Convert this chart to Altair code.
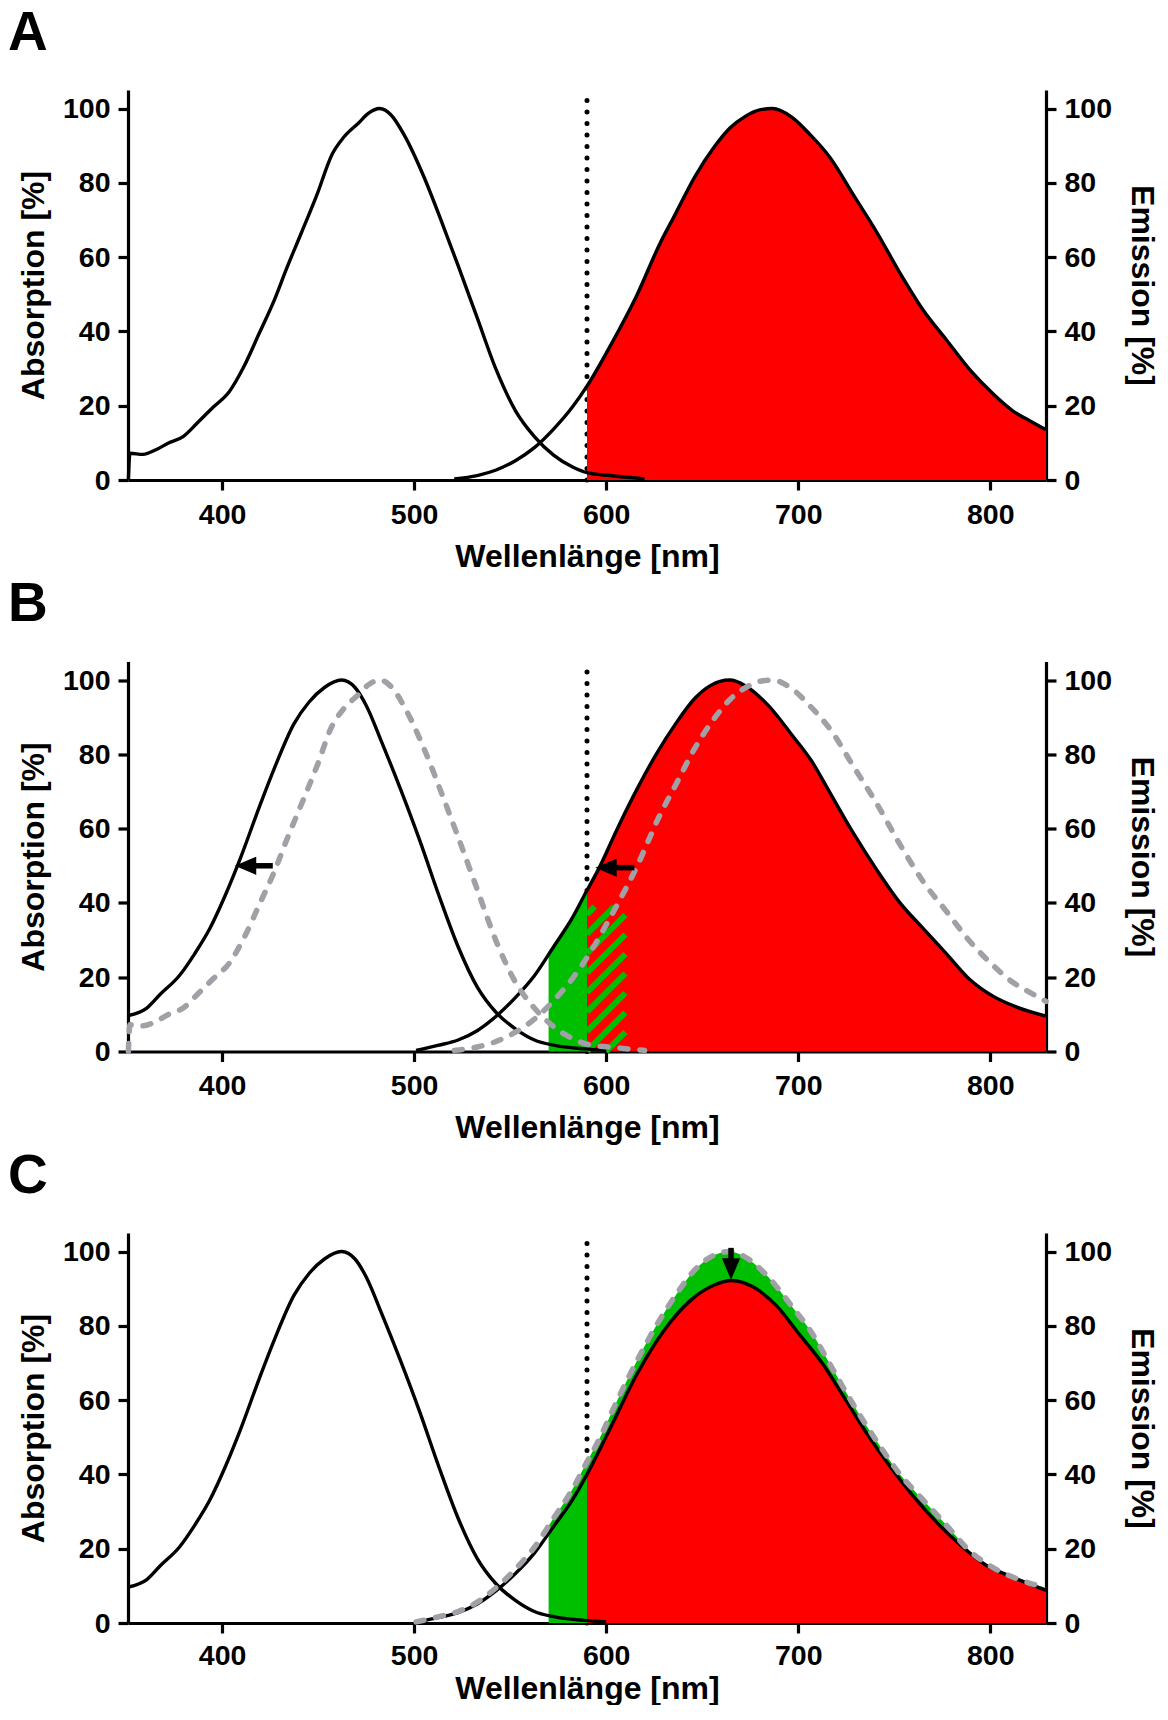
import altair as alt
import pandas as pd
import numpy as np

FONT = "Liberation Sans"
RED = "#FF0000"
GREEN = "#00BE00"
GRAY = "#A0A0A6"

# ---- data ----
# Panel A absorption (also grey dashed reference in panel B)
abs_a_wl = [351.2, 352.0, 358.8, 365.8, 371.8, 379.7, 387.7, 395.6, 403.6, 411.5, 419.5, 427.4,
            433.4, 441.4, 449.3, 457.3, 463.2, 471.2, 476.1, 482.1, 488.1, 495.0, 505.0, 514.9,
            522.9, 532.8, 542.7, 552.7, 562.6, 572.6, 582.5, 590.5, 601.8, 620.0]
abs_a_val = [0.0, 7.2, 6.9, 8.2, 9.9, 11.7, 15.7, 19.7, 23.7, 30.7, 39.7, 48.7,
             56.7, 66.7, 76.7, 87.7, 92.2, 96.2, 98.7, 100.0, 98.2, 92.7, 81.7, 68.7,
             57.7, 43.7, 29.7, 18.7, 11.7, 6.7, 3.5, 1.9, 1.2, 0.3]

# Panel A emission (also grey dashed reference in panel B)
em_a_wl = [520.9, 532.8, 542.7, 552.7, 562.6, 572.6, 582.5, 589.9, 603.8, 615.9, 628.0, 636.1,
           646.2, 656.3, 664.3, 672.4, 680.4, 686.5, 696.6, 706.7, 716.7, 728.8, 740.9, 753.0,
           765.1, 777.2, 789.3, 801.4, 811.5, 819.6, 829.0]
em_a_val = [0.3, 1.2, 2.7, 5.2, 8.7, 13.7, 19.7, 25.2, 37.7, 49.7, 63.7, 71.7,
            81.7, 89.7, 94.7, 97.9, 99.7, 100.0, 97.7, 92.7, 86.7, 76.7, 66.7, 55.7,
            45.7, 37.7, 29.7, 23.2, 18.7, 16.2, 13.5]

# Blue-shifted absorption (panels B and C)
abs_b_wl = [351.2, 360.8, 367.8, 377.7, 385.7, 393.6, 401.6, 409.5, 419.5, 427.4, 437.4, 445.3,
            453.3, 462.2, 469.2, 475.1, 483.1, 493.0, 503.0, 512.9, 522.9, 532.8, 542.7, 552.7,
            562.6, 572.6, 588.5, 600.0]
abs_b_val = [9.7, 11.7, 15.4, 20.4, 26.3, 33.1, 42.0, 52.0, 66.0, 76.5, 88.2, 94.1,
             98.0, 100.0, 98.0, 93.1, 83.3, 70.5, 56.7, 42.0, 28.2, 17.4, 10.5, 6.1,
             3.1, 1.7, 0.7, 0.3]

# Blue-shifted emission (panel B solid, panel C grey dashed)
em_b_wl = [501.0, 512.9, 522.9, 532.8, 542.7, 552.7, 562.6, 572.6, 582.5, 589.6, 595.8, 605.8,
           615.9, 626.0, 636.1, 646.2, 654.2, 664.3, 672.4, 684.5, 696.6, 706.7, 716.7, 728.8,
           740.9, 753.0, 765.1, 777.2, 789.3, 801.4, 813.5, 829.0]
em_b_val = [0.3, 1.7, 3.1, 5.6, 9.5, 14.5, 20.4, 28.2, 36.1, 43.0, 48.9, 60.0,
            70.5, 80.0, 88.2, 95.1, 98.5, 100.0, 98.5, 93.1, 85.3, 78.4, 69.5, 58.7,
            48.9, 40.0, 33.1, 26.3, 19.4, 14.9, 12.0, 9.5]

# Quenched emission (panel C solid)
em_c_wl = [501.0, 512.9, 522.9, 532.8, 542.7, 552.7, 562.6, 572.6, 582.5, 590.0, 601.8, 615.9,
           630.0, 644.2, 656.3, 665.3, 676.4, 688.5, 700.6, 712.7, 724.8, 736.9, 749.0, 761.1,
           773.2, 785.3, 797.4, 809.5, 829.0]
em_c_val = [0.2, 1.5, 2.8, 5.1, 8.7, 13.3, 18.8, 26.0, 33.2, 40.0, 52.1, 66.9,
            78.7, 87.0, 91.0, 92.2, 90.5, 85.5, 77.7, 69.8, 60.0, 50.1, 41.3, 33.4,
            26.5, 20.6, 15.7, 12.8, 8.8]

x_ticks = [400, 500, 600, 700, 800]
y_ticks = [0, 20, 40, 60, 80, 100]
X_DOMAIN = [351, 829]
Y_DOMAIN = [0, 105]
filter_cut = 590      # dotted line / filter edge
green_lo = 570
hatch_hi = 610
hatch_top = 39
arrows_b = [(426.4, 406.6, 50.0), (614.7, 594.3, 49.5)]   # (tail, tip, level)
arrow_c = (665.0, 101.0, 92.4)                            # (wavelength, tail, tip)

W, H = 918, 390
KX = W / (X_DOMAIN[1] - X_DOMAIN[0])
KY = H / (Y_DOMAIN[1] - Y_DOMAIN[0])

yscale = alt.Scale(domain=Y_DOMAIN, nice=False, zero=True)


def make_x(label_pad, title_pad):
    return alt.X("wl:Q", scale=alt.Scale(domain=X_DOMAIN, nice=False, zero=False),
                 axis=alt.Axis(title="Wellenlänge [nm]", values=x_ticks, format="d",
                               labelPadding=label_pad, titlePadding=title_pad))


def df(wl, val):
    return pd.DataFrame({"wl": wl, "val": val})


def seg(wl, val, lo, hi):
    wl = np.asarray(wl, float)
    val = np.asarray(val, float)
    inner = wl[(wl > lo) & (wl < hi)]
    xs = np.concatenate([[lo], inner, [hi]])
    return pd.DataFrame({"wl": xs, "val": np.interp(xs, wl, val)})


def yenc(axis=None):
    return alt.Y("val:Q", scale=yscale, axis=axis)


LEFT_HEAD = "M 0 0 L 2 -0.85 L 2 0.85 Z"
DOWN_HEAD = "M 0 0 L -0.85 -2 L 0.85 -2 Z"


class Panel:
    def __init__(self, label_pad, title_pad):
        self.x = make_x(label_pad, title_pad)

    def area(self, data, color):
        return alt.Chart(data).mark_area(color=color, interpolate="monotone", opacity=1).encode(
            x=self.x, y=yenc())

    def solid(self, data, axis=None):
        return alt.Chart(data).mark_line(color="black", strokeWidth=3.4,
                                         interpolate="monotone").encode(x=self.x, y=yenc(axis))

    def dashed(self, data):
        return alt.Chart(data).mark_line(color=GRAY, strokeWidth=5.5, strokeDash=[8, 12],
                                         strokeCap="round", interpolate="monotone").encode(
            x=self.x, y=yenc())

    def dotted(self):
        d = pd.DataFrame({"wl": [filter_cut], "val": [Y_DOMAIN[0]], "val2": [Y_DOMAIN[1]]})
        return alt.Chart(d).mark_rule(color="black", strokeWidth=5, strokeDash=[0.1, 11.4],
                                      strokeCap="round").encode(x=self.x, y=yenc(), y2="val2:Q")

    def hatch(self):
        w = (hatch_hi - filter_cut) * KX
        h = hatch_top * KY
        rows = []
        step = 19.5
        k = -w
        while k < h:
            u0 = max(0.0, -k)
            u1 = min(w, h - k)
            if u1 > u0:
                rows.append({"wl": filter_cut + u0 / KX, "val": (u0 + k) / KY,
                             "wl2": filter_cut + u1 / KX, "val2": (u1 + k) / KY})
            k += step
        return alt.Chart(pd.DataFrame(rows)).mark_rule(color=GREEN, strokeWidth=6,
                                                       strokeCap="butt").encode(
            x=self.x, x2="wl2:Q", y=yenc(), y2="val2:Q")

    def h_arrow(self, tail, tip, level):
        body = pd.DataFrame({"wl": [tail], "wl2": [tip + 16 / KX], "val": [level]})
        head = pd.DataFrame({"wl": [tip], "val": [level]})
        r = alt.Chart(body).mark_rule(color="black", strokeWidth=5.5).encode(
            x=self.x, x2="wl2:Q", y=yenc())
        p = alt.Chart(head).mark_point(shape=LEFT_HEAD, size=460, filled=True, color="black",
                                       opacity=1, strokeWidth=0).encode(x=self.x, y=yenc())
        return [r, p]

    def v_arrow(self, wl, tail, tip):
        body = pd.DataFrame({"wl": [wl], "val": [tail], "val2": [tip + 16 / KY]})
        head = pd.DataFrame({"wl": [wl], "val": [tip]})
        r = alt.Chart(body).mark_rule(color="black", strokeWidth=5.5).encode(
            x=self.x, y=yenc(), y2="val2:Q")
        p = alt.Chart(head).mark_point(shape=DOWN_HEAD, size=460, filled=True, color="black",
                                       opacity=1, strokeWidth=0).encode(x=self.x, y=yenc())
        return [r, p]


left_axis = alt.Axis(title="Absorption [%]", values=y_ticks, orient="left", titlePadding=12)
right_axis = alt.Axis(title="Emission [%]", values=y_ticks, orient="right", titlePadding=13)


def panel(letter, layers):
    return alt.layer(*layers).resolve_scale(y="independent").properties(
        width=W, height=H,
        title=alt.TitleParams(text=letter, anchor="start", frame="group", dx=-120,
                              fontSize=55, font=FONT, fontWeight="bold", color="black",
                              offset=26))


# Panel A
P = Panel(10, 12.5)
pa = panel("A", [
    P.dotted(),
    P.area(seg(em_a_wl, em_a_val, filter_cut, X_DOMAIN[1]), RED),
    P.solid(df(abs_a_wl, abs_a_val), left_axis),
    P.solid(df(em_a_wl, em_a_val), right_axis),
])

# Panel B
P = Panel(10, 12.5)
pb = panel("B", [
    P.dotted(),
    P.area(seg(em_b_wl, em_b_val, green_lo, filter_cut), GREEN),
    P.area(seg(em_b_wl, em_b_val, filter_cut, X_DOMAIN[1]), RED),
    P.hatch(),
    P.solid(df(abs_b_wl, abs_b_val), left_axis),
    P.solid(df(em_b_wl, em_b_val), right_axis),
    P.dashed(df(abs_a_wl, abs_a_val)),
    P.dashed(df(em_a_wl, em_a_val)),
    *P.h_arrow(*arrows_b[0]),
    *P.h_arrow(*arrows_b[1]),
])

# Panel C
P = Panel(8, 4)
pc = panel("C", [
    P.dotted(),
    P.area(seg(em_b_wl, em_b_val, green_lo, X_DOMAIN[1]), GREEN),
    P.area(seg(em_c_wl, em_c_val, filter_cut, X_DOMAIN[1]), RED),
    P.solid(df(abs_b_wl, abs_b_val), left_axis),
    P.solid(df(em_c_wl, em_c_val), right_axis),
    P.dashed(df(em_b_wl, em_b_val)),
    *P.v_arrow(*arrow_c),
])

chart = alt.vconcat(pa, pb, pc, spacing=4.5).properties(
    padding={"left": 0, "top": -3, "right": 2, "bottom": 0}
).configure_view(stroke=None).configure_axis(
    grid=False,
    domainColor="black", domainWidth=3.2,
    tickColor="black", tickWidth=3.2, tickSize=10,
    labelFont=FONT, labelFontSize=28.5, labelFontWeight="bold", labelColor="black", labelPadding=8,
    titleFont=FONT, titleFontSize=32, titleFontWeight="bold", titleColor="black",
)

chart.save("out.html", embed_options={"renderer": "svg", "actions": False})
